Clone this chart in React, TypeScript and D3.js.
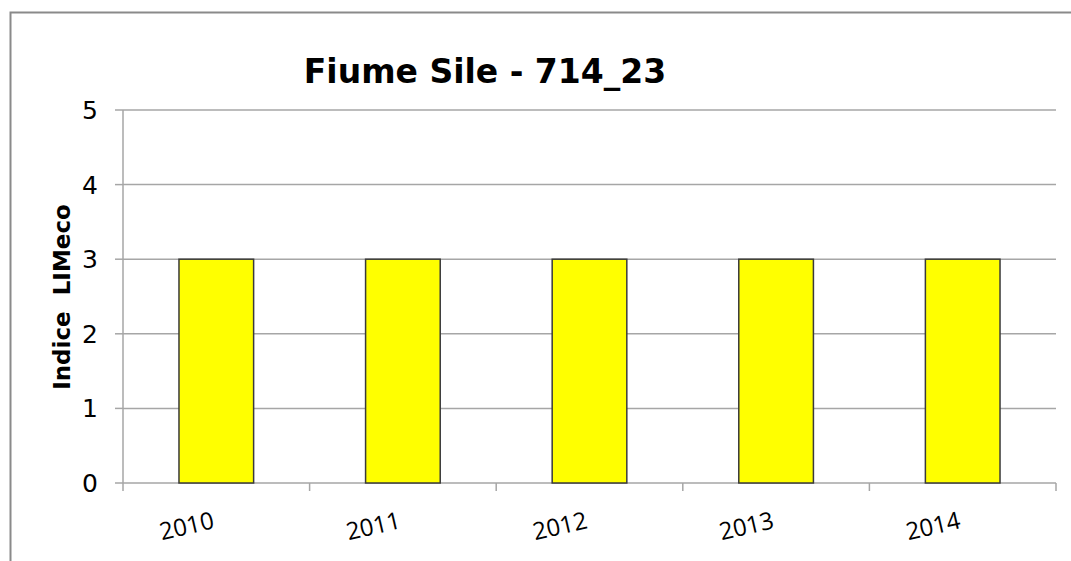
import React, { useEffect, useRef } from "react";
import * as d3 from "d3";

const years = ["2010", "2011", "2012", "2013", "2014"];
const limeco = [3, 3, 3, 3, 3];
const yTicks = [0, 1, 2, 3, 4, 5];

const W = 1071;
const H = 561;

export default function App() {
  const ref = useRef<SVGSVGElement>(null);

  useEffect(() => {
    const svg = d3.select(ref.current);
    svg.selectAll("*").remove();

    const left = 123, right = 1056, top = 110, bottom = 483;

    // outer frame
    svg.append("rect")
      .attr("x", 10.5).attr("y", 12.5)
      .attr("width", W).attr("height", H)
      .attr("fill", "white").attr("stroke", "#8a8a8a").attr("stroke-width", 2);

    const x = d3.scaleBand().domain(years).range([left, right]).paddingInner(0).paddingOuter(0);
    const y = d3.scaleLinear().domain([0, 5]).range([bottom, top]);

    const g = svg.append("g");

    // gridlines
    g.selectAll(".grid").data(yTicks.filter(t => t > 0)).enter().append("line")
      .attr("x1", left).attr("x2", right)
      .attr("y1", d => y(d)).attr("y2", d => y(d))
      .attr("stroke", "#a6a6a6").attr("stroke-width", 1.5);

    // y axis
    g.append("line").attr("x1", left).attr("x2", left).attr("y1", top).attr("y2", bottom)
      .attr("stroke", "#a6a6a6").attr("stroke-width", 1.5);
    g.selectAll(".ytick").data(yTicks).enter().append("line")
      .attr("x1", left - 8).attr("x2", left)
      .attr("y1", d => y(d)).attr("y2", d => y(d))
      .attr("stroke", "#a6a6a6").attr("stroke-width", 1.5);
    g.selectAll(".ylab").data(yTicks).enter().append("text")
      .attr("x", 98).attr("y", d => y(d) + 9)
      .attr("text-anchor", "end")
      .attr("font-family", "DejaVu Sans")
      .attr("font-size", 25)
      .text(d => d);

    // x axis
    g.append("line").attr("x1", left).attr("x2", right).attr("y1", bottom).attr("y2", bottom)
      .attr("stroke", "#a6a6a6").attr("stroke-width", 1.5);
    const bounds = years.map(d => x(d) as number).concat([right]);
    g.selectAll(".xtick").data(bounds).enter().append("line")
      .attr("x1", d => d).attr("x2", d => d)
      .attr("y1", bottom).attr("y2", bottom + 8)
      .attr("stroke", "#a6a6a6").attr("stroke-width", 1.5);

    // bars
    const bw = x.bandwidth() * 0.4;
    g.selectAll(".bar").data(limeco).enter().append("rect")
      .attr("x", (d, i) => (x(years[i]) as number) + x.bandwidth() / 2 - bw / 2)
      .attr("y", d => y(d))
      .attr("width", bw)
      .attr("height", d => bottom - y(d))
      .attr("fill", "#ffff00")
      .attr("stroke", "#3a3a3a").attr("stroke-width", 1.5);

    // x labels
    g.selectAll(".xlab").data(years).enter().append("text")
      .attr("transform", d => `translate(${(x(d) as number) + x.bandwidth() / 2 - 1},${bottom + 45}) rotate(-13)`)
      .attr("text-anchor", "end")
      .attr("font-family", "Open Sans")
      .attr("font-size", 24)
      .text(d => d);

    // y title
    svg.append("text")
      .attr("transform", `translate(70,297) rotate(-90)`)
      .attr("text-anchor", "middle")
      .attr("font-family", "DejaVu Sans")
      .attr("font-weight", "bold")
      .attr("font-size", 23)
      .attr("xml:space", "preserve")
      .text("Indice  LIMeco");

    // title
    svg.append("text")
      .attr("x", 485).attr("y", 83)
      .attr("text-anchor", "middle")
      .attr("font-family", "DejaVu Sans")
      .attr("font-weight", "bold")
      .attr("font-size", 33)
      .text("Fiume Sile - 714_23");
  }, []);

  return (
    <svg ref={ref} width={W} height={H}
      style={{ position: "absolute", left: 0, top: 0, background: "white" }} />
  );
}
